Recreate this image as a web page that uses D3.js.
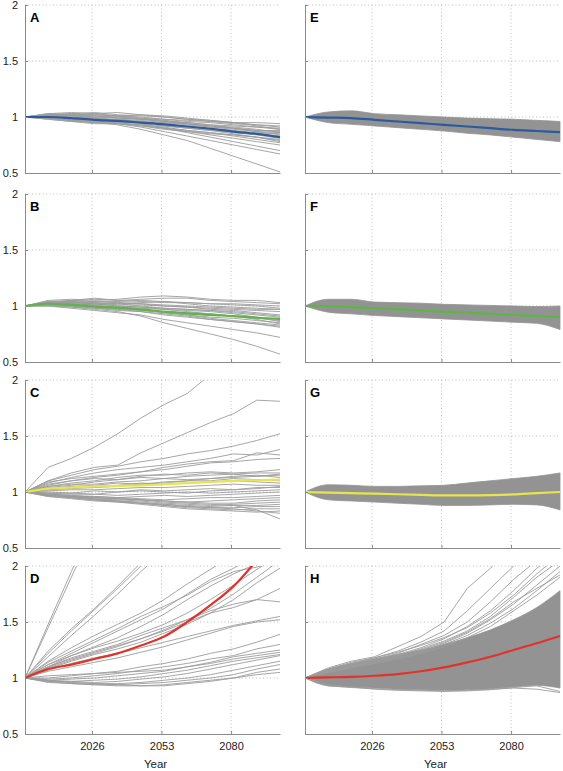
<!DOCTYPE html>
<html>
<head>
<meta charset="utf-8">
<script src="https://cdn.jsdelivr.net/npm/d3@7"></script>
<style>
  html, body { margin: 0; padding: 0; background: #fff; }
  svg { display: block; font-family: "Liberation Sans", Arial, sans-serif; }
</style>
</head>
<body>
<svg id="chart" width="563" height="771"></svg>
<script>
// ---------------- DATA ----------------
const years = [2000, 2009, 2018, 2027, 2036, 2045, 2054, 2063, 2072, 2081, 2090, 2099];
const yTicks = [0.5, 1, 1.5, 2];
const xTicks = [2026, 2053, 2080];
const xLabel = "Year";

// Panel A (few runs, blue mean)
const runsA = [
  [1, 1.02, 1.03, 1.02, 1.01, 1.02, 1.0, 0.98, 0.96, 0.94, 0.93, 0.92],
  [1, 1.01, 1.0, 0.98, 0.97, 0.95, 0.92, 0.9, 0.88, 0.86, 0.84, 0.81],
  [1, 0.99, 0.97, 0.96, 0.95, 0.93, 0.9, 0.87, 0.84, 0.81, 0.78, 0.75],
  [1, 1.02, 1.01, 1.0, 0.99, 0.98, 0.96, 0.95, 0.93, 0.92, 0.91, 0.9],
  [1, 0.99, 0.97, 0.95, 0.93, 0.89, 0.84, 0.79, 0.72, 0.65, 0.58, 0.51],
  [1, 0.99, 0.97, 0.95, 0.94, 0.91, 0.87, 0.83, 0.79, 0.75, 0.71, 0.67],
  [1, 1.0, 0.98, 0.97, 0.96, 0.94, 0.9, 0.86, 0.82, 0.78, 0.74, 0.7],
  [1, 1.03, 1.04, 1.03, 1.01, 1.0, 0.98, 0.97, 0.96, 0.95, 0.95, 0.94],
  [1, 1.01, 1.02, 1.03, 1.04, 1.02, 1.01, 0.99, 0.97, 0.95, 0.92, 0.89],
  [1, 1.0, 0.99, 0.99, 0.97, 0.96, 0.94, 0.92, 0.9, 0.88, 0.86, 0.85],
  [1, 0.98, 0.96, 0.95, 0.96, 0.94, 0.92, 0.9, 0.88, 0.85, 0.82, 0.78],
  [1, 1.02, 1.02, 1.01, 0.99, 0.98, 0.97, 0.95, 0.93, 0.9, 0.88, 0.87],
  [1, 1.01, 0.99, 0.97, 0.98, 0.96, 0.93, 0.91, 0.89, 0.87, 0.85, 0.83],
  [1, 0.99, 0.97, 0.97, 0.95, 0.92, 0.89, 0.87, 0.85, 0.84, 0.82, 0.8],
  [1, 1.03, 1.02, 1.0, 1.0, 0.99, 0.97, 0.94, 0.92, 0.91, 0.89, 0.86],
  [1, 1.0, 1.01, 0.99, 0.98, 0.97, 0.95, 0.93, 0.91, 0.9, 0.88, 0.88],
  [1, 1.02, 1.03, 1.04, 1.02, 1.01, 1.0, 0.98, 0.97, 0.95, 0.93, 0.91],
  [1, 0.99, 0.98, 0.96, 0.94, 0.93, 0.91, 0.88, 0.86, 0.83, 0.8, 0.77],
  [1, 1.01, 1.0, 0.99, 0.97, 0.96, 0.95, 0.94, 0.92, 0.9, 0.87, 0.84],
  [1, 1.02, 1.01, 1.01, 1.0, 0.98, 0.96, 0.94, 0.91, 0.89, 0.87, 0.86],
  [1, 0.98, 0.96, 0.94, 0.94, 0.92, 0.9, 0.88, 0.86, 0.84, 0.82, 0.79],
  [1, 1.0, 1.02, 1.02, 1.01, 0.99, 0.98, 0.96, 0.95, 0.93, 0.91, 0.89]
];
const meanA = [1.0, 1.0, 0.99, 0.975, 0.965, 0.95, 0.935, 0.915, 0.895, 0.87, 0.85, 0.82];

// Panel B (few runs, green mean)
const runsB = [
  [1, 1.05, 1.06, 1.05, 1.06, 1.08, 1.09, 1.08, 1.06, 1.05, 1.05, 1.03],
  [1, 1.04, 1.05, 1.07, 1.05, 1.06, 1.07, 1.07, 1.05, 1.04, 1.03, 1.02],
  [1, 1.03, 1.04, 1.03, 1.02, 1.03, 1.04, 1.03, 1.02, 1.01, 1.0, 0.98],
  [1, 1.01, 0.99, 0.97, 0.95, 0.91, 0.85, 0.8, 0.75, 0.7, 0.64, 0.57],
  [1, 1.0, 0.98, 0.96, 0.94, 0.92, 0.88, 0.85, 0.82, 0.79, 0.76, 0.72],
  [1, 1.02, 1.01, 0.99, 0.97, 0.95, 0.92, 0.9, 0.88, 0.86, 0.84, 0.81],
  [1, 1.04, 1.03, 1.02, 1.0, 0.99, 0.97, 0.95, 0.93, 0.91, 0.88, 0.84],
  [1, 1.01, 1.0, 0.99, 0.98, 0.96, 0.95, 0.93, 0.92, 0.91, 0.9, 0.88],
  [1, 1.03, 1.05, 1.04, 1.03, 1.02, 1.0, 0.99, 0.98, 0.97, 0.96, 0.95],
  [1, 1.02, 1.02, 1.01, 1.02, 1.0, 0.98, 0.97, 0.96, 0.94, 0.92, 0.9],
  [1, 1.0, 0.99, 0.98, 0.97, 0.96, 0.94, 0.92, 0.89, 0.87, 0.85, 0.83],
  [1, 1.03, 1.04, 1.06, 1.05, 1.04, 1.03, 1.03, 1.02, 1.02, 1.01, 1.0],
  [1, 1.02, 1.01, 1.0, 0.99, 0.98, 0.97, 0.96, 0.95, 0.93, 0.9, 0.86],
  [1, 1.04, 1.04, 1.03, 1.01, 1.01, 1.0, 0.99, 0.97, 0.96, 0.94, 0.92],
  [1, 1.01, 1.0, 0.98, 0.96, 0.95, 0.93, 0.91, 0.88, 0.86, 0.84, 0.82],
  [1, 1.03, 1.03, 1.02, 1.0, 0.99, 0.98, 0.97, 0.96, 0.95, 0.93, 0.91],
  [1, 1.02, 1.03, 1.02, 1.03, 1.02, 1.01, 1.0, 0.99, 0.98, 0.97, 0.97],
  [1, 1.01, 1.02, 1.0, 0.98, 0.97, 0.95, 0.94, 0.93, 0.91, 0.89, 0.87],
  [1, 1.03, 1.02, 1.01, 0.99, 0.97, 0.94, 0.92, 0.9, 0.89, 0.87, 0.85],
  [1, 1.02, 1.03, 1.04, 1.04, 1.05, 1.04, 1.02, 1.0, 0.99, 0.98, 0.97]
];
const meanB = [1.0, 1.02, 1.01, 0.995, 0.985, 0.97, 0.95, 0.935, 0.92, 0.91, 0.895, 0.885];

// Panel C (few runs, yellow mean)
const runsC = [
  [1, 1.22, 1.3, 1.4, 1.52, 1.66, 1.78, 1.88, 2.05, 2.2, 2.35, 2.5],
  [1, 1.1, 1.17, 1.22, 1.24, 1.35, 1.44, 1.53, 1.62, 1.7, 1.82, 1.81],
  [1, 1.1, 1.15, 1.2, 1.23, 1.27, 1.3, 1.34, 1.37, 1.41, 1.46, 1.52],
  [1, 1.08, 1.13, 1.17, 1.2, 1.22, 1.24, 1.27, 1.3, 1.34, 1.33, 1.38],
  [1, 1.09, 1.12, 1.14, 1.16, 1.18, 1.22, 1.25, 1.27, 1.28, 1.35, 1.33],
  [1, 1.06, 1.1, 1.13, 1.15, 1.18, 1.2, 1.23, 1.26, 1.27, 1.29, 1.3],
  [1, 1.05, 1.08, 1.1, 1.13, 1.15, 1.15, 1.17, 1.18, 1.17, 1.18, 1.2],
  [1, 1.07, 1.1, 1.12, 1.11, 1.14, 1.16, 1.15, 1.17, 1.16, 1.17, 1.17],
  [1, 1.04, 1.06, 1.09, 1.11, 1.13, 1.12, 1.14, 1.15, 1.16, 1.14, 1.15],
  [1, 1.05, 1.07, 1.07, 1.09, 1.1, 1.12, 1.11, 1.12, 1.14, 1.15, 1.13],
  [1, 1.03, 1.05, 1.06, 1.08, 1.07, 1.09, 1.1, 1.1, 1.12, 1.11, 1.1],
  [1, 1.02, 1.04, 1.05, 1.06, 1.08, 1.07, 1.08, 1.09, 1.1, 1.09, 1.08],
  [1, 1.01, 1.02, 1.02, 1.03, 1.04, 1.04, 1.05, 1.06, 1.07, 1.06, 1.06],
  [1, 1.0, 0.99, 1.01, 1.0, 1.02, 1.01, 1.02, 1.03, 1.02, 1.04, 1.04],
  [1, 0.99, 0.98, 0.98, 0.97, 0.98, 0.99, 1.0, 0.99, 1.0, 1.01, 1.02],
  [1, 0.98, 0.97, 0.96, 0.95, 0.96, 0.97, 0.96, 0.97, 0.98, 0.99, 1.0],
  [1, 0.97, 0.96, 0.96, 0.95, 0.94, 0.93, 0.94, 0.95, 0.95, 0.96, 0.97],
  [1, 0.98, 0.97, 0.95, 0.94, 0.93, 0.92, 0.91, 0.92, 0.93, 0.94, 0.95],
  [1, 0.97, 0.96, 0.95, 0.94, 0.93, 0.92, 0.91, 0.9, 0.9, 0.92, 0.93],
  [1, 0.98, 0.96, 0.94, 0.93, 0.92, 0.9, 0.89, 0.88, 0.89, 0.9, 0.91],
  [1, 0.97, 0.95, 0.94, 0.92, 0.9, 0.89, 0.88, 0.87, 0.88, 0.88, 0.89],
  [1, 0.96, 0.95, 0.93, 0.92, 0.91, 0.89, 0.87, 0.86, 0.86, 0.87, 0.87],
  [1, 0.97, 0.95, 0.93, 0.91, 0.9, 0.88, 0.86, 0.85, 0.84, 0.85, 0.85],
  [1, 0.96, 0.94, 0.92, 0.91, 0.89, 0.87, 0.85, 0.84, 0.83, 0.82, 0.83],
  [1, 0.97, 0.95, 0.93, 0.92, 0.9, 0.88, 0.87, 0.86, 0.85, 0.83, 0.81],
  [1, 0.98, 0.96, 0.95, 0.94, 0.93, 0.91, 0.9, 0.89, 0.88, 0.84, 0.76],
  [1, 1.02, 1.03, 1.04, 1.05, 1.07, 1.08, 1.1, 1.12, 1.13, 1.14, 1.16],
  [1, 0.99, 0.99, 0.98, 1.0, 1.01, 1.0, 0.99, 1.01, 1.02, 1.03, 1.05]
];
const meanC = [1.0, 1.03, 1.04, 1.05, 1.055, 1.06, 1.07, 1.08, 1.09, 1.1, 1.105, 1.11];

// Panel D (few runs, red mean)
const runsD = [
  [1, 1.48, 1.95, 2.45, 2.9, 3.3, 3.7, 4.1, 4.5, 4.9, 5.3, 5.7],
  [1, 1.45, 1.9, 2.35, 2.8, 3.2, 3.6, 4.0, 4.4, 4.8, 5.2, 5.6],
  [1, 1.22, 1.42, 1.61, 1.8, 2.0, 2.2, 2.4, 2.6, 2.8, 3.0, 3.2],
  [1, 1.19, 1.38, 1.56, 1.75, 1.95, 2.14, 2.32, 2.5, 2.7, 2.9, 3.1],
  [1, 1.24, 1.44, 1.62, 1.82, 2.03, 2.22, 2.42, 2.62, 2.82, 3.0, 3.2],
  [1, 1.15, 1.27, 1.38, 1.48, 1.58, 1.7, 1.84, 1.97, 2.1, 2.2, 2.3],
  [1, 1.12, 1.22, 1.32, 1.42, 1.52, 1.62, 1.75, 1.88, 1.98, 2.1, 2.2],
  [1, 1.1, 1.2, 1.28, 1.36, 1.46, 1.57, 1.7, 1.82, 1.93, 2.02, 2.1],
  [1, 1.14, 1.24, 1.34, 1.44, 1.55, 1.64, 1.74, 1.86, 1.95, 1.99, 2.05],
  [1, 1.09, 1.16, 1.22, 1.28, 1.35, 1.42, 1.5, 1.58, 1.63, 1.7, 1.8],
  [1, 1.1, 1.18, 1.24, 1.3, 1.38, 1.45, 1.52, 1.6, 1.66, 1.7, 1.68],
  [1, 1.07, 1.13, 1.18, 1.22, 1.27, 1.32, 1.37, 1.42, 1.47, 1.51, 1.55],
  [1, 1.12, 1.2, 1.27, 1.33, 1.4, 1.48, 1.58, 1.7, 1.83, 1.97, 2.1],
  [1, 1.1, 1.17, 1.23, 1.29, 1.35, 1.43, 1.52, 1.62, 1.75, 1.9, 2.05],
  [1, 1.08, 1.15, 1.21, 1.26, 1.32, 1.4, 1.48, 1.58, 1.7, 1.85, 1.98],
  [1, 1.0, 1.02, 1.04, 1.06, 1.1, 1.13, 1.17, 1.22, 1.26, 1.32, 1.39],
  [1, 0.99, 1.0, 1.02, 1.04, 1.07, 1.1, 1.13, 1.17, 1.2, 1.26, 1.3],
  [1, 0.98, 0.99, 1.0, 1.02, 1.04, 1.06, 1.1, 1.14, 1.19, 1.22, 1.25],
  [1, 0.97, 0.97, 0.98, 0.99, 1.01, 1.04, 1.07, 1.11, 1.15, 1.18, 1.21],
  [1, 0.98, 0.97, 0.96, 0.97, 0.99, 1.01, 1.04, 1.08, 1.12, 1.16, 1.2],
  [1, 0.97, 0.96, 0.95, 0.95, 0.96, 0.98, 1.0, 1.03, 1.07, 1.11, 1.15],
  [1, 0.96, 0.95, 0.94, 0.94, 0.95, 0.96, 0.98, 1.0, 1.03, 1.08, 1.12],
  [1, 0.97, 0.95, 0.94, 0.93, 0.93, 0.94, 0.96, 0.98, 1.0, 1.05, 1.08],
  [1, 0.98, 0.96, 0.95, 0.94, 0.93, 0.93, 0.95, 0.97, 1.0, 1.03, 1.05],
  [1, 1.02, 1.03, 1.04, 1.05, 1.06, 1.07, 1.1, 1.13, 1.17, 1.2, 1.23],
  [1, 1.06, 1.1, 1.14, 1.18, 1.23, 1.28, 1.34, 1.4, 1.46, 1.5, 1.52]
];
const meanD = [1.0, 1.08, 1.12, 1.17, 1.22, 1.29, 1.37, 1.5, 1.65, 1.82, 2.05, 2.3];

// Panels E-H: many runs, drawn as the envelope of the ensemble plus edge runs
const upperE = [1.0, 1.045, 1.055, 1.03, 1.02, 1.01, 1.0, 0.99, 0.985, 0.98, 0.97, 0.96];
const lowerE = [1.0, 0.95, 0.935, 0.92, 0.905, 0.89, 0.875, 0.855, 0.84, 0.82, 0.8, 0.78];
const meanE  = [1.0, 0.995, 0.99, 0.975, 0.96, 0.945, 0.93, 0.915, 0.9, 0.885, 0.875, 0.865];

const upperF = [1.0, 1.06, 1.06, 1.035, 1.03, 1.025, 1.015, 1.01, 1.005, 1.0, 0.995, 1.0];
const lowerF = [1.0, 0.945, 0.93, 0.915, 0.905, 0.895, 0.885, 0.875, 0.865, 0.855, 0.845, 0.79];
const meanF  = [1.0, 1.0, 0.99, 0.98, 0.97, 0.96, 0.95, 0.94, 0.93, 0.92, 0.91, 0.9];

const upperG = [1.0, 1.065, 1.06, 1.05, 1.05, 1.055, 1.06, 1.08, 1.1, 1.12, 1.14, 1.17];
const lowerG = [1.0, 0.93, 0.92, 0.91, 0.9, 0.89, 0.88, 0.88, 0.885, 0.89, 0.885, 0.84];
const meanG  = [1.0, 0.995, 0.99, 0.985, 0.98, 0.975, 0.97, 0.97, 0.972, 0.978, 0.99, 1.0];

const upperH = [1.0, 1.08, 1.13, 1.17, 1.21, 1.25, 1.3, 1.36, 1.43, 1.52, 1.63, 1.78];
const lowerH = [1.0, 0.93, 0.92, 0.91, 0.9, 0.895, 0.89, 0.895, 0.905, 0.92, 0.935, 0.91];
const meanH  = [1.0, 1.005, 1.01, 1.02, 1.035, 1.06, 1.095, 1.14, 1.19, 1.25, 1.31, 1.375];
const edgeRunsH = [
  [1, 1.09, 1.15, 1.19, 1.28, 1.37, 1.5, 1.8, 1.98, 2.2, 2.4, 2.6],
  [1, 1.08, 1.14, 1.18, 1.24, 1.32, 1.42, 1.6, 1.8, 2.0, 2.2, 2.4],
  [1, 1.07, 1.12, 1.17, 1.22, 1.3, 1.38, 1.5, 1.68, 1.88, 2.05, 2.25],
  [1, 1.06, 1.11, 1.16, 1.21, 1.27, 1.35, 1.46, 1.6, 1.78, 1.98, 2.15],
  [1, 1.07, 1.12, 1.16, 1.2, 1.26, 1.33, 1.42, 1.55, 1.72, 1.9, 2.05],
  [1, 1.06, 1.1, 1.15, 1.19, 1.24, 1.31, 1.4, 1.52, 1.66, 1.83, 2.0],
  [1, 1.05, 1.1, 1.14, 1.18, 1.23, 1.3, 1.38, 1.49, 1.62, 1.78, 1.95],
  [1, 1.06, 1.11, 1.15, 1.2, 1.25, 1.32, 1.41, 1.53, 1.68, 1.8, 1.92],
  [1, 1.05, 1.09, 1.13, 1.17, 1.22, 1.28, 1.36, 1.46, 1.6, 1.74, 1.9],
  [1, 1.07, 1.13, 1.18, 1.23, 1.29, 1.36, 1.45, 1.58, 1.74, 1.93, 2.1],
  [1, 0.93, 0.915, 0.905, 0.895, 0.89, 0.885, 0.89, 0.9, 0.91, 0.9, 0.87],
  [1, 0.94, 0.92, 0.9, 0.89, 0.885, 0.88, 0.885, 0.895, 0.915, 0.93, 0.88]
];

const colors = { A: "#2c5a9e", B: "#5db548", C: "#e6e64c", D: "#e0332b" };

// ---------------- LAYOUT ----------------
const svg = d3.select("#chart");
const rowTops = [5, 194, 380, 566];
const plotH = 168;
const colLefts = [25, 305];
const plotW = 255;
const gridColor = "#bdbdbd";
const axisColor = "#8a8a8a";
const runColor = "#9c9c9c";
const bandColor = "#939393";

const panels = [
  { id: "A", row: 0, col: 0, runs: runsA, mean: meanA, color: colors.A },
  { id: "B", row: 1, col: 0, runs: runsB, mean: meanB, color: colors.B },
  { id: "C", row: 2, col: 0, runs: runsC, mean: meanC, color: colors.C },
  { id: "D", row: 3, col: 0, runs: runsD, mean: meanD, color: colors.D },
  { id: "E", row: 0, col: 1, runs: [], upper: upperE, lower: lowerE, mean: meanE, color: colors.A },
  { id: "F", row: 1, col: 1, runs: [], upper: upperF, lower: lowerF, mean: meanF, color: colors.B },
  { id: "G", row: 2, col: 1, runs: [], upper: upperG, lower: lowerG, mean: meanG, color: colors.C },
  { id: "H", row: 3, col: 1, runs: edgeRunsH, upper: upperH, lower: lowerH, mean: meanH, color: colors.D }
];

panels.forEach(p => {
  const left = colLefts[p.col], top = rowTops[p.row];
  const x = d3.scaleLinear().domain([2000, 2099]).range([left, left + plotW]);
  const y = d3.scaleLinear().domain([0.5, 2]).range([top + plotH, top]);
  const g = svg.append("g");

  const clipId = "clip" + p.id;
  svg.append("clipPath").attr("id", clipId).append("rect")
    .attr("x", left).attr("y", top).attr("width", plotW + 2).attr("height", plotH);

  // grid
  g.selectAll(".hg").data([1, 1.5, 2]).join("line")
    .attr("x1", left).attr("x2", left + plotW)
    .attr("y1", d => y(d)).attr("y2", d => y(d))
    .attr("stroke", gridColor).attr("stroke-width", 1).attr("stroke-dasharray", "1,2.5");
  g.selectAll(".vg").data(xTicks).join("line")
    .attr("x1", d => x(d)).attr("x2", d => x(d))
    .attr("y1", top).attr("y2", top + plotH)
    .attr("stroke", gridColor).attr("stroke-width", 1).attr("stroke-dasharray", "1,2.5");

  const data = g.append("g").attr("clip-path", `url(#${clipId})`);
  const line = d3.line().x((d, i) => x(years[i])).y(d => y(d));

  if (p.upper) {
    const area = d3.area().x((d, i) => x(years[i]))
      .y0((d, i) => y(p.lower[i])).y1((d, i) => y(p.upper[i]))
      .curve(d3.curveMonotoneX);
    data.append("path").datum(p.upper).attr("d", area)
      .attr("fill", bandColor).attr("stroke", bandColor).attr("stroke-width", 0.8);
  }

  data.selectAll(".run").data(p.runs).join("path")
    .attr("d", line)
    .attr("fill", "none").attr("stroke", runColor).attr("stroke-width", 0.9);

  data.append("path").datum(p.mean)
    .attr("d", line.curve(d3.curveMonotoneX))
    .attr("fill", "none").attr("stroke", p.color).attr("stroke-width", 2.2);

  // axes
  const yAxis = d3.axisLeft(y).tickValues(yTicks).tickSizeInner(-3).tickSizeOuter(0).tickPadding(7)
    .tickFormat(p.col === 0 ? d3.format("") : () => "");
  const ya = svg.append("g").attr("transform", `translate(${left},0)`).call(yAxis);
  const xAxis = d3.axisBottom(x).tickValues(xTicks).tickSizeInner(-3).tickSizeOuter(0).tickPadding(8)
    .tickFormat(p.row === 3 ? d3.format("") : () => "");
  const xa = svg.append("g").attr("transform", `translate(0,${top + plotH})`).call(xAxis);
  [ya, xa].forEach(a => {
    a.select(".domain").attr("stroke", axisColor);
    a.selectAll(".tick line").attr("stroke", axisColor);
    a.selectAll("text").attr("fill", "#222").style("font-size", "11px")
      .style("font-family", '"Liberation Sans", Arial, sans-serif');
  });

  if (p.row === 3) {
    svg.append("text").attr("x", left + plotW / 2 + 3).attr("y", top + plotH + 34)
      .attr("text-anchor", "middle").attr("fill", "#222").style("font-size", "11.5px")
      .text(xLabel);
  }

  svg.append("text").attr("x", left + 5).attr("y", top + 17)
    .attr("fill", "#000").style("font-size", "13px").style("font-weight", "bold")
    .text(p.id);
});
</script>
</body>
</html>
